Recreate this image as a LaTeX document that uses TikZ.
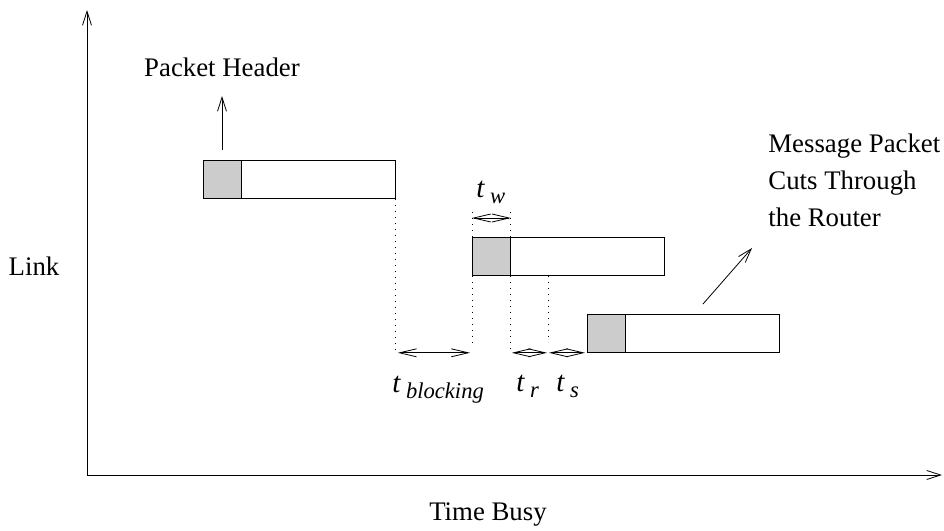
\documentclass[tikz,border=0pt]{standalone}
\usepackage{fontspec}
\setmainfont{Liberation Serif}
\usetikzlibrary{arrows.meta,positioning}

\newcommand{\tlab}[1]{{\fontsize{14.5}{16}\selectfont\textit{t}}\hspace{2.5pt}\raisebox{-3pt}{\fontsize{11.3}{13}\selectfont\textit{#1}}}

\begin{document}
\begin{tikzpicture}[x=0.5pt,y=-0.5pt]
\tikzstyle{every node}+=[inner sep=0pt,font=\fontsize{13.4}{18.5}\selectfont]
\tikzstyle{barb}=[-{Straight Barb[length=7pt,width=4.5pt]}]
\tikzstyle{span}=[{Straight Barb[length=8.5pt,width=4pt]}-{Straight Barb[length=8.5pt,width=4pt]}]
\tikzstyle{packet}=[draw,rectangle,minimum width=96pt,minimum height=19pt,anchor=north west]
\tikzstyle{header}=[draw,fill=gray!40,minimum width=19pt,minimum height=19pt,anchor=north west]
\tikzstyle{guide}=[dash pattern=on 0.6pt off 2.4pt]
\tikzstyle{tlabel}=[anchor=base west]
\useasboundingbox (0,0) rectangle (944,531);
% axes
\coordinate (o) at (87,475);
\coordinate (ytop) at (87,10);
\coordinate (xend) at (942,475);
\draw[barb] (o) -- (ytop);
\draw[barb] (o) -- (xend);
\node (link) at (34,266) {Link};
\node (busy) at (488,515) {Time Busy};
% packets
\node[packet] (p1) at (203,160) {};
\node[header] (h1) at (p1.north west) {};
\node[packet] (p2) at (472,237) {};
\node[header] (h2) at (p2.north west) {};
\node[packet] (p3) at (587,314) {};
\node[header] (h3) at (p3.north west) {};
% header label
\node (phead) at (222,67) {Packet Header};
\coordinate (hfoot) at (222,150);
\coordinate (htip) at (222,96);
\draw[barb] (hfoot) -- (htip);
% cut through label
\node[anchor=west,align=left] (cut) at (768,180) {Message Packet\\Cuts Through\\the Router};
\coordinate (cfoot) at (703,304);
\coordinate (ctip) at (752,248);
\draw[barb] (cfoot) -- (ctip);
% timing guides
\coordinate (tw) at (0,218);
\coordinate (rs) at (548,276);
\draw[guide] (p1.south east) -- (p1.south east |- p3.south);
\draw[guide] (h2.north west) -- ++(0,-27);
\draw[guide] (h2.north east) -- ++(0,-27);
\draw[guide] (h2.south west) -- ++(0,70);
\draw[guide] (h2.south east) -- (h2.south east |- p3.south);
\draw[guide] (rs) -- ++(0,66);
\draw[span] (h2.north west |- tw) -- (h2.north east |- tw);
\draw[span] ([xshift=1pt]p1.south east |- p3.south) -- ([xshift=-1pt]h2.south west |- p3.south);
\draw[span] ([xshift=0.5pt]h2.south east |- p3.south) -- ([xshift=-0.5pt]rs |- p3.south);
\draw[span] ([xshift=0.5pt]rs |- p3.south) -- ([xshift=-1pt]p3.south west);
% timing labels
\node[tlabel] (lw) at (476,197) {\tlab{w}};
\node[tlabel] (lb) at (392,392) {\tlab{blocking}};
\node[tlabel] (lr) at (516,391) {\tlab{r}};
\node[tlabel] (ls) at (556,391) {\tlab{s}};
\end{tikzpicture}
\end{document}
